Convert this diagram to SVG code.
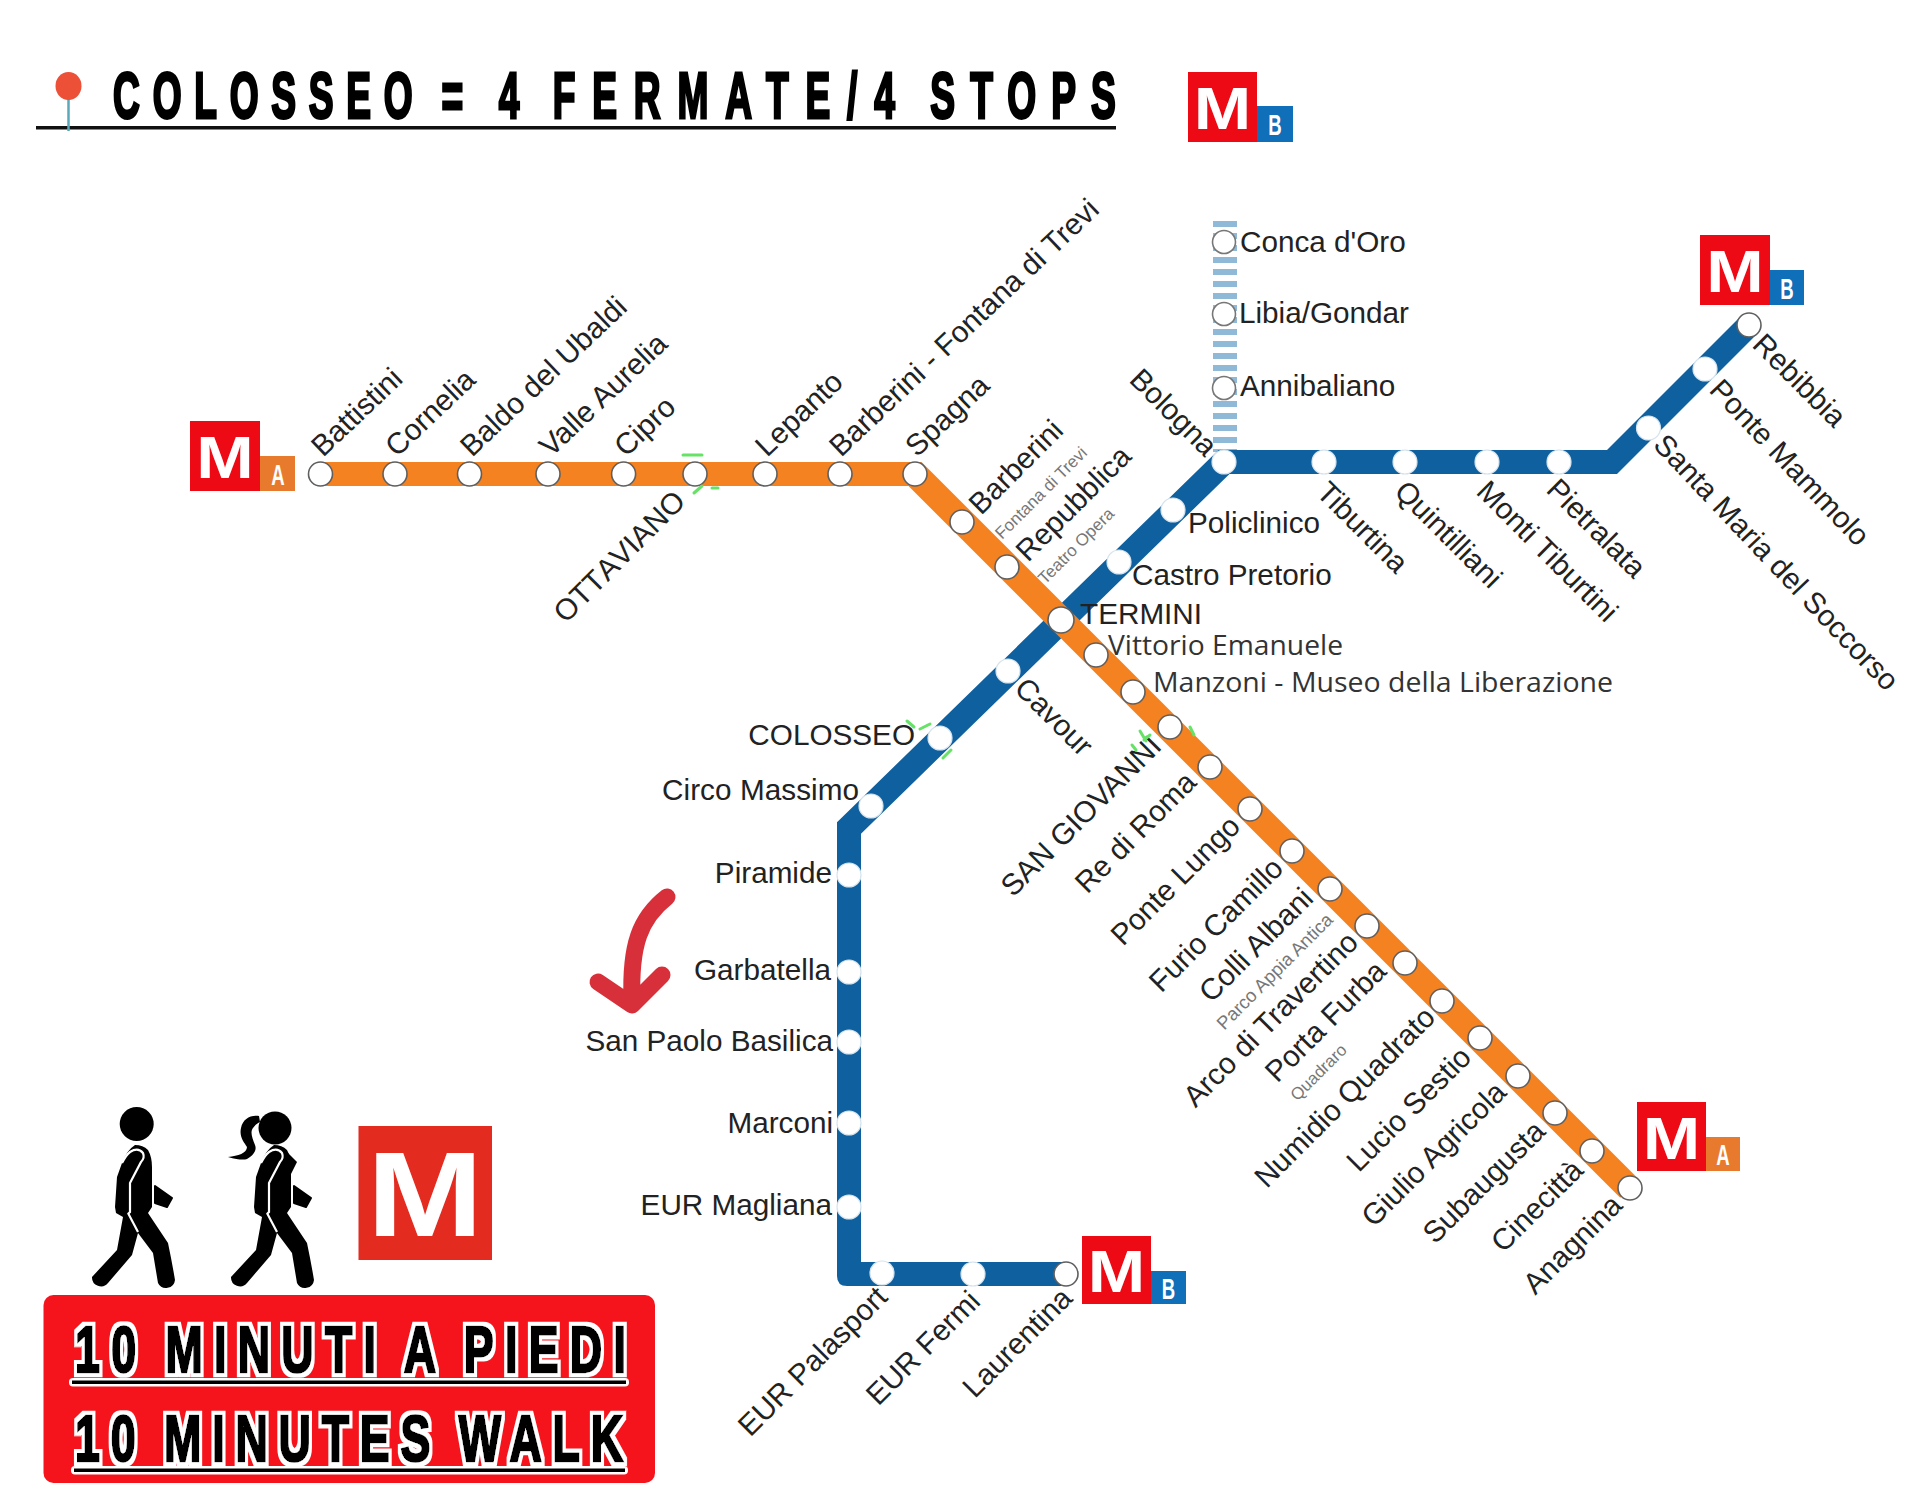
<svg xmlns="http://www.w3.org/2000/svg" width="1920" height="1509" viewBox="0 0 1920 1509">
<style>
text{font-family:"Liberation Sans",Arial,sans-serif}
.l{font-size:29.7px;fill:#222}
.e{text-anchor:end}
.s{font-size:17px;fill:#777}
.n{font-family:"Open Sans","Noto Sans",sans-serif;font-size:28px;fill:#333}
.st{fill:#fff;stroke:#d6e4ee;stroke-width:1.2}
.so{fill:#fff;stroke:#5f5f5f;stroke-width:1.6}
.red{fill:#ee0a14}
.m{font-weight:700;font-size:60px;fill:#fff;text-anchor:middle}
.sub{font-weight:700;font-size:30px;fill:#fff;text-anchor:middle}
.big{font-weight:700;font-size:64px;fill:#000;stroke:#000;stroke-width:2.5px;word-spacing:-8px;filter:url(#halo)}
.sp{fill:none;stroke:#66e266;stroke-width:3;stroke-linecap:round}
</style>
<defs>
<filter id="halo" x="-5%" y="-25%" width="110%" height="150%">
<feMorphology in="SourceAlpha" operator="dilate" radius="3.6" result="d"/>
<feFlood flood-color="#fff"/>
<feComposite in2="d" operator="in" result="w"/>
<feMerge><feMergeNode in="w"/><feMergeNode in="SourceGraphic"/></feMerge>
</filter>
<g id="walker">
<path d="M135,1145Q143,1145 148,1150Q152,1157 152,1167L152,1207L148,1213L168,1243Q172,1262 175,1280A9,9 0 0 1 158,1283L153,1253L138,1233L132,1255L108,1283A9,9 0 0 1 92,1277L117,1250L123,1217L116,1213L115,1207L117,1177L122,1163Q127,1150 135,1145Z"/>
<path d="M155,1186L172,1198L167,1207L155,1203Z" stroke="#000" stroke-width="2" stroke-linejoin="round"/>
<path d="M122,1163Q126,1155 130,1152Q138,1147 143,1153Q145,1158 141,1162L130,1183L130,1212L128,1214M128,1213L138,1232" fill="none" stroke="#fff" stroke-width="2.2"/>
</g>
</defs>
<rect width="1920" height="1509" fill="#fff"/>

<g id="title">
<text transform="translate(0,118) scale(0.58,1)" font-size="64" font-weight="700" fill="#000" stroke="#000" stroke-width="3"><tspan x="195" letter-spacing="22">COLOSSEO</tspan> <tspan x="761">=</tspan> <tspan x="860">4</tspan> <tspan x="953" letter-spacing="29">FERMATE/4</tspan> <tspan x="1604" letter-spacing="26">STOPS</tspan></text>
<rect x="36" y="126" width="1080" height="3.5" fill="#111"/>
<line x1="68.5" y1="98" x2="68.5" y2="131" stroke="#5ba8b8" stroke-width="2.5"/>
<ellipse cx="68.5" cy="86" rx="13" ry="14" fill="#ec5036"/>
</g>

<g id="logo-header">
<rect class="red" x="1188" y="72" width="69" height="70"/><rect x="1257" y="106" width="36" height="36" fill="#0f6fb8"/>
<text class="m" transform="translate(1222.5,129) scale(1.15,1)">M</text>
<text class="sub" transform="translate(1275,135) scale(0.62,1)">B</text>
</g>

<g id="connectors">
<line x1="1225" y1="221" x2="1225" y2="452" stroke="#8fb9d6" stroke-width="24" stroke-dasharray="6 6"/>
<path id="line-b" fill="#0f609f" d="M1740.5,316.5L1607,450L1218.5,450L837,822.3L837,1276Q837,1286 847,1286L1066,1286L1066,1262L861,1262L861,833.7L1229.5,474L1617,474L1757.5,333.5Z"/>
<path id="line-a" fill="#f58220" d="M320,462L921.5,462L1638.75,1179.25L1620.25,1197.75L908.5,486L320,486Z"/>
</g>

<g id="logo-a-west">
<rect class="red" x="190" y="421" width="70" height="70"/><rect x="260" y="456" width="35" height="35" fill="#e87a2d"/>
<text class="m" transform="translate(225,478) scale(1.15,1)">M</text>
<text class="sub" transform="translate(278,485) scale(0.62,1)">A</text>
</g>
<g id="logo-b-east">
<rect class="red" x="1700" y="235" width="70" height="70"/><rect x="1770" y="270" width="34" height="35" fill="#0f6fb8"/>
<text class="m" transform="translate(1735,292) scale(1.15,1)">M</text>
<text class="sub" transform="translate(1787,299) scale(0.62,1)">B</text>
</g>
<g id="logo-a-south">
<rect class="red" x="1637" y="1102" width="69" height="69"/><rect x="1706" y="1137" width="34" height="34" fill="#e87a2d"/>
<text class="m" transform="translate(1671.5,1159) scale(1.15,1)">M</text>
<text class="sub" transform="translate(1723,1165) scale(0.62,1)">A</text>
</g>
<g id="logo-b-south">
<rect class="red" x="1082" y="1236" width="69" height="68"/><rect x="1151" y="1271" width="35" height="33" fill="#0f6fb8"/>
<text class="m" transform="translate(1116.5,1292) scale(1.15,1)">M</text>
<text class="sub" transform="translate(1168.5,1299) scale(0.62,1)">B</text>
</g>

<!-- Line A -->
<g id="battistini"><circle class="so" cx="320.5" cy="474" r="12"/><text class="l" x="323" y="458" transform="rotate(-43.5 323 458)">Battistini</text></g>
<g id="cornelia"><circle class="so" cx="395" cy="474" r="12"/><text class="l" x="397" y="458" transform="rotate(-43.5 397 458)">Cornelia</text></g>
<g id="baldo"><circle class="so" cx="469.5" cy="474" r="12"/><text class="l" x="472" y="458" transform="rotate(-43.5 472 458)">Baldo del Ubaldi</text></g>
<g id="valle"><circle class="so" cx="548" cy="474" r="12"/><text class="l" x="551" y="458" transform="rotate(-43.5 551 458)">Valle Aurelia</text></g>
<g id="cipro"><circle class="so" cx="623.6" cy="474" r="12"/><text class="l" x="626" y="458" transform="rotate(-43.5 626 458)">Cipro</text></g>
<g id="ottaviano"><circle class="so" cx="695" cy="474" r="12"/><text class="l e" x="687" y="503" transform="rotate(-45 687 503)" style="font-kerning:none">OTTAVIANO</text></g>
<g id="lepanto"><circle class="so" cx="765" cy="474" r="12"/><text class="l" x="767" y="458" transform="rotate(-43.5 767 458)">Lepanto</text></g>
<g id="barberini-trevi"><circle class="so" cx="840" cy="474" r="12"/><text class="l" x="841" y="458" transform="rotate(-43.5 841 458)">Barberini - Fontana di Trevi</text></g>
<g id="spagna"><circle class="so" cx="915" cy="474" r="12"/><text class="l" x="917" y="458" transform="rotate(-43.5 917 458)">Spagna</text></g>
<g id="barberini"><circle class="so" cx="962" cy="522" r="12"/><text class="l" x="981" y="516" transform="rotate(-45 981 516)">Barberini</text><text class="s" x="1002" y="540" transform="rotate(-45 1002 540)">Fontana di Trevi</text></g>
<g id="repubblica"><circle class="so" cx="1007" cy="567" r="12"/><text class="l" x="1028" y="563" transform="rotate(-45 1028 563)">Repubblica</text><text class="s" x="1045" y="585" transform="rotate(-45 1045 585)">Teatro Opera</text></g>
<g id="termini"><circle class="so" cx="1061" cy="620" r="13"/><text class="l" x="1080" y="624">TERMINI</text></g>
<g id="vittorio"><circle class="so" cx="1096" cy="655" r="12"/><text class="n" x="1108" y="655" textLength="235" lengthAdjust="spacingAndGlyphs">Vittorio Emanuele</text></g>
<g id="manzoni"><circle class="so" cx="1133" cy="692" r="12"/><text class="n" x="1153" y="692" textLength="460" lengthAdjust="spacingAndGlyphs">Manzoni - Museo della Liberazione</text></g>
<g id="san-giovanni"><circle class="so" cx="1170" cy="727" r="12"/><text class="l e" x="1163" y="748" transform="rotate(-45 1163 748)">SAN GIOVANNI</text></g>
<g id="re-di-roma"><circle class="so" cx="1210" cy="767" r="12"/><text class="l e" x="1198" y="784" transform="rotate(-45 1198 784)">Re di Roma</text></g>
<g id="ponte-lungo"><circle class="so" cx="1250" cy="809" r="12"/><text class="l e" x="1242" y="828" transform="rotate(-45 1242 828)">Ponte Lungo</text></g>
<g id="furio"><circle class="so" cx="1292" cy="851" r="12"/><text class="l e" x="1285" y="870" transform="rotate(-45 1285 870)">Furio Camillo</text></g>
<g id="colli"><circle class="so" cx="1330" cy="889" r="12"/><text class="l e" x="1315" y="900" transform="rotate(-45 1315 900)">Colli Albani</text><text class="s e" style="font-size:18.5px" x="1334" y="921" transform="rotate(-45 1334 921)">Parco Appia Antica</text></g>
<g id="arco"><circle class="so" cx="1367" cy="926" r="12"/><text class="l e" x="1360" y="944" transform="rotate(-45 1360 944)">Arco di Travertino</text></g>
<g id="porta-furba"><circle class="so" cx="1405" cy="963" r="12"/><text class="l e" x="1388" y="973" transform="rotate(-45 1388 973)">Porta Furba</text><text class="s e" x="1348" y="1051" transform="rotate(-45 1348 1051)">Quadraro</text></g>
<g id="numidio"><circle class="so" cx="1442" cy="1001" r="12"/><text class="l e" x="1437" y="1019" transform="rotate(-45 1437 1019)">Numidio Quadrato</text></g>
<g id="lucio"><circle class="so" cx="1480" cy="1038" r="12"/><text class="l e" x="1473" y="1059" transform="rotate(-45 1473 1059)">Lucio Sestio</text></g>
<g id="giulio"><circle class="so" cx="1518" cy="1076" r="12"/><text class="l e" x="1508" y="1094" transform="rotate(-45 1508 1094)">Giulio Agricola</text></g>
<g id="subaugusta"><circle class="so" cx="1555" cy="1113" r="12"/><text class="l e" x="1547" y="1133" transform="rotate(-45 1547 1133)">Subaugusta</text></g>
<g id="cinecitta"><circle class="so" cx="1592" cy="1151" r="12"/><text class="l e" x="1585" y="1172" transform="rotate(-45 1585 1172)">Cinecittà</text></g>
<g id="anagnina"><circle class="so" cx="1630" cy="1188" r="12"/><text class="l e" x="1624" y="1207" transform="rotate(-45 1624 1207)">Anagnina</text></g>

<!-- Line B -->
<g id="conca"><circle class="so" cx="1224" cy="242" r="11.5" style="stroke:#777"/><text class="l" x="1240" y="252">Conca d'Oro</text></g>
<g id="libia"><circle class="so" cx="1224" cy="314" r="11.5" style="stroke:#777"/><text class="l" x="1239" y="323">Libia/Gondar</text></g>
<g id="annibaliano"><circle class="so" cx="1224" cy="388" r="11.5" style="stroke:#777"/><text class="l" x="1240" y="396">Annibaliano</text></g>
<g id="rebibbia"><circle class="so" cx="1749" cy="325" r="12"/><text class="l" x="1751" y="346" transform="rotate(45 1751 346)">Rebibbia</text></g>
<g id="ponte-mammolo"><circle class="st" cx="1705" cy="369" r="12"/><text class="l" x="1708" y="391" transform="rotate(46.5 1708 391)">Ponte Mammolo</text></g>
<g id="santa-maria"><circle class="st" cx="1648.5" cy="428" r="12"/><text class="l" x="1652" y="446" transform="rotate(46.5 1652 446)">Santa Maria del Soccorso</text></g>
<g id="pietralata"><circle class="st" cx="1559" cy="462" r="12"/><text class="l" x="1545" y="491" transform="rotate(45 1545 491)">Pietralata</text></g>
<g id="monti"><circle class="st" cx="1487" cy="462" r="12"/><text class="l" x="1475" y="493" transform="rotate(45 1475 493)">Monti Tiburtini</text></g>
<g id="quintiliani"><circle class="st" cx="1405" cy="462" r="12"/><text class="l" x="1393" y="493" transform="rotate(45 1393 493)">Quintilliani</text></g>
<g id="tiburtina"><circle class="st" cx="1324" cy="462" r="12"/><text class="l" x="1315" y="494" transform="rotate(45 1315 494)">Tiburtina</text></g>
<g id="bologna"><circle class="st" cx="1224" cy="462" r="12"/><text class="l e" x="1205" y="458" transform="rotate(45 1205 458)">Bologna</text></g>
<g id="policlinico"><circle class="st" cx="1173" cy="510" r="12"/><text class="l" x="1188" y="533">Policlinico</text></g>
<g id="castro"><circle class="st" cx="1119" cy="562" r="12"/><text class="l" x="1132" y="585">Castro Pretorio</text></g>
<g id="cavour"><circle class="st" cx="1008" cy="671" r="12"/><text class="l" x="1013" y="690" transform="rotate(45 1013 690)">Cavour</text></g>
<g id="colosseo"><circle class="st" cx="940" cy="738" r="12"/><text class="l e" x="915" y="745">COLOSSEO</text></g>
<g id="circo"><circle class="st" cx="871" cy="806" r="12"/><text class="l" x="662" y="800" textLength="197" lengthAdjust="spacing">Circo Massimo</text></g>
<g id="piramide"><circle class="st" cx="849" cy="875" r="12"/><text class="l e" x="832" y="883">Piramide</text></g>
<g id="garbatella"><circle class="st" cx="849" cy="972" r="12"/><text class="l e" x="831" y="980">Garbatella</text></g>
<g id="san-paolo"><circle class="st" cx="849" cy="1042" r="12"/><text class="l e" x="833" y="1051">San Paolo Basilica</text></g>
<g id="marconi"><circle class="st" cx="849" cy="1123" r="12"/><text class="l e" x="833" y="1133">Marconi</text></g>
<g id="eur-magliana"><circle class="st" cx="849" cy="1207" r="12"/><text class="l e" x="832" y="1215">EUR Magliana</text></g>
<g id="eur-palasport"><circle class="st" cx="882" cy="1273" r="12"/><text class="l e" x="889" y="1299" transform="rotate(-45 889 1299)">EUR Palasport</text></g>
<g id="eur-fermi"><circle class="st" cx="973" cy="1274" r="12"/><text class="l e" x="982" y="1303" transform="rotate(-45 982 1303)">EUR Fermi</text></g>
<g id="laurentina"><circle class="so" cx="1066" cy="1274" r="12"/><text class="l e" x="1074" y="1300" transform="rotate(-45 1074 1300)">Laurentina</text></g>

<g id="specks">
<path class="sp" d="M683,455H702M694,493L702,486M712,488H718"/>
<path class="sp" d="M907,721L914,727M920,729L930,724M943,758L951,750"/>
<path class="sp" d="M1140,731L1146,741M1132,745L1136,750M1190,727L1194,735M1144,740L1150,735"/>
</g>

<g id="arrow"><path d="M667,897C640,918 630,945 632,1000M598,982L632,1005L662,975" fill="none" stroke="#d8303a" stroke-width="17" stroke-linecap="round" stroke-linejoin="round"/></g>

<g id="walkers">
<circle cx="136.7" cy="1124" r="17"/>
<use href="#walker"/>
<circle cx="275" cy="1128" r="16.5"/>
<use href="#walker" x="139"/>
<path d="M285,1150L297,1162L291,1174Z"/>
<path d="M259,1116C250,1115 243,1119 241,1128C239,1137 244,1142 247,1147C247,1153 238,1156 228,1157C238,1160 244,1160 247,1159C254,1155 257,1150 255,1145C252,1137 250,1132 253,1128C255,1125 258,1123 260,1122Z"/>
</g>

<g id="logo-big">
<rect x="358.5" y="1126" width="133.5" height="134" fill="#e32b20"/>
<text transform="translate(425,1236) scale(1.16,1)" font-size="120" font-weight="700" fill="#fff" text-anchor="middle">M</text>
</g>

<g id="banner">
<rect x="43.5" y="1295" width="611.5" height="188" rx="10" fill="#f5141c"/>
<text class="big" transform="translate(75,1372) scale(0.7,1)" textLength="787" lengthAdjust="spacing">10 MINUTI A PIEDI</text>
<rect x="69" y="1378" width="560" height="8.5" rx="4" fill="#fff"/><rect x="72" y="1380.5" width="554" height="3.5" fill="#000"/>
<text class="big" transform="translate(75,1461) scale(0.7,1)" textLength="783" lengthAdjust="spacing">10 MINUTES WALK</text>
<rect x="71" y="1466" width="557" height="8.5" rx="4" fill="#fff"/><rect x="74" y="1468.5" width="551" height="3.5" fill="#000"/>
</g>
</svg>
